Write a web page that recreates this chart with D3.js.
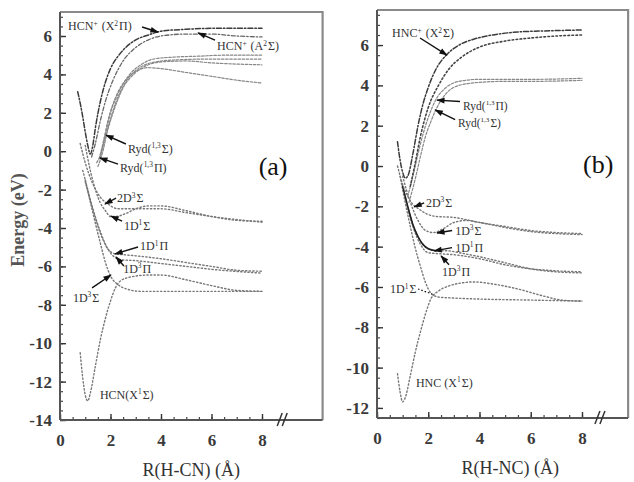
<!DOCTYPE html>
<html><head><meta charset="utf-8">
<script src="https://cdn.jsdelivr.net/npm/d3@7"></script>
<style>body{margin:0;background:#fff}</style>
</head><body><svg id="c" width="634" height="482"></svg>
<script>
// ---------- tick values ----------
const xTickVals = [0, 2, 4, 6, 8];
const yTicksA = [-14, -12, -10, -8, -6, -4, -2, 0, 2, 4, 6];
const yTicksB = [-12, -10, -8, -6, -4, -2, 0, 2, 4, 6];

// ---------- panel (a): H-CN curves [R (Å), E (eV)] ----------
const a_HCNp_X2Pi = [[0.7,3.1],[0.8,2.5],[0.9,1.8],[1.0,1.0],[1.1,0.3],[1.2,-0.15],[1.3,0.3],[1.4,1.2],[1.6,2.6],[1.8,3.6],[2.0,4.3],[2.3,4.95],[2.6,5.4],[3.0,5.8],[3.5,6.05],[4.0,6.25],[5.0,6.35],[6.0,6.4],[7.0,6.4],[8.0,6.4]];
const a_HCNp_A2Sig = [[1.25,-0.3],[1.4,0.4],[1.6,1.6],[1.8,2.6],[2.1,3.7],[2.5,4.7],[3.0,5.4],[3.5,5.8],[4.0,6.0],[5.0,6.1],[6.0,6.1],[7.0,6.0],[8.0,5.95]];
const a_Ryd1Sig = [[1.45,-0.6],[1.6,-0.2],[1.8,0.9],[2.0,2.0],[2.3,3.0],[2.7,3.9],[3.2,4.5],[3.7,4.8],[4.5,4.9],[5.5,4.95],[6.5,5.0],[8.0,5.0]];
const a_Ryd3Sig = [[1.5,-0.8],[1.7,0.0],[1.9,1.2],[2.2,2.5],[2.6,3.6],[3.1,4.3],[3.6,4.6],[4.5,4.75],[6.0,4.8],[8.0,4.8]];
const a_Ryd1Pi = [[1.55,-0.4],[1.7,0.4],[1.9,1.6],[2.2,2.8],[2.6,3.7],[3.0,4.15],[3.5,4.35],[4.0,4.3],[5.0,4.1],[6.0,3.9],[7.0,3.7],[8.0,3.55]];
const a_Ryd3Pi = [[1.6,-0.3],[1.8,0.7],[2.1,2.0],[2.5,3.3],[3.0,4.1],[3.5,4.5],[4.0,4.65],[5.0,4.7],[6.0,4.6],[8.0,4.5]];
const a_2D3Sig = [[0.8,0.4],[1.0,-0.6],[1.3,-1.7],[1.6,-2.4],[1.9,-2.75],[2.3,-3.0],[3.0,-3.0],[4.0,-3.0],[5.0,-3.2],[6.0,-3.4],[8.0,-3.7]];
const a_1D1Sig = [[1.0,0.3],[1.2,-1.0],[1.4,-2.0],[1.6,-2.7],[1.8,-3.1],[2.0,-3.4],[2.2,-3.4],[2.6,-3.25],[3.0,-3.0],[3.5,-2.85],[4.0,-2.85],[5.0,-3.1],[6.0,-3.4],[7.0,-3.6],[8.0,-3.65]];
const a_1D1Pi = [[0.9,-1.0],[1.1,-2.0],[1.3,-3.0],[1.5,-3.9],[1.7,-4.6],[1.9,-5.1],[2.2,-5.35],[2.6,-5.4],[3.0,-5.45],[4.0,-5.6],[5.0,-5.8],[6.0,-6.0],[7.0,-6.2],[8.0,-6.25]];
const a_1D3Pi = [[1.0,-1.6],[1.3,-3.0],[1.6,-4.2],[1.9,-5.1],[2.1,-5.45],[2.4,-5.65],[3.0,-5.7],[4.0,-5.85],[5.0,-6.0],[6.0,-6.15],[8.0,-6.35]];
const a_1D3Sig = [[1.0,-1.5],[1.3,-3.2],[1.6,-4.8],[1.8,-5.8],[2.0,-6.5],[2.3,-6.95],[2.7,-7.2],[3.2,-7.3],[4.0,-7.3],[6.0,-7.3],[8.0,-7.3]];
const a_X1Sig = [[0.8,-10.5],[0.9,-11.8],[1.0,-12.7],[1.1,-13.0],[1.2,-12.6],[1.4,-11.2],[1.6,-9.8],[1.8,-8.7],[2.0,-7.8],[2.2,-7.1],[2.4,-6.75],[2.8,-6.55],[3.5,-6.45],[4.0,-6.45],[5.0,-6.7],[6.0,-7.0],[7.0,-7.25],[8.0,-7.3]];

// ---------- panel (b): H-NC curves ----------
const b_HNCp_X2Sig = [[0.8,1.2],[0.9,0.3],[1.0,-0.3],[1.1,-0.6],[1.2,-0.5],[1.4,0.6],[1.6,2.0],[1.8,3.1],[2.0,3.9],[2.3,4.8],[2.7,5.5],[3.2,6.0],[3.8,6.3],[4.5,6.5],[5.5,6.65],[6.5,6.7],[8.0,6.75]];
const b_upper2 = [[1.3,-1.0],[1.5,0.2],[1.7,1.5],[2.0,2.9],[2.4,4.0],[2.8,4.8],[3.3,5.4],[4.0,5.9],[5.0,6.2],[6.0,6.35],[7.0,6.45],[8.0,6.5]];
const b_RydPi = [[1.2,-1.5],[1.4,-0.5],[1.6,0.6],[1.8,1.6],[2.0,2.4],[2.3,3.3],[2.7,3.9],[3.2,4.2],[4.0,4.3],[5.0,4.3],[6.0,4.3],[8.0,4.35]];
const b_RydSig = [[1.25,-1.8],[1.5,-0.6],[1.7,0.5],[1.9,1.5],[2.1,2.2],[2.3,2.8],[2.7,3.6],[3.2,4.0],[4.0,4.15],[5.0,4.2],[6.0,4.2],[8.0,4.25]];
const b_2D3Sig = [[0.8,0.0],[1.0,-0.9],[1.2,-1.5],[1.4,-1.9],[1.6,-2.1],[1.9,-2.35],[2.3,-2.5],[3.0,-2.55],[4.0,-2.8],[5.0,-3.0],[6.0,-3.2],[7.0,-3.3],[8.0,-3.35]];
const b_1D3Sig = [[1.0,-0.5],[1.3,-1.8],[1.6,-2.7],[1.9,-3.2],[2.2,-3.3],[2.6,-3.1],[3.0,-2.8],[3.5,-2.7],[4.0,-2.8],[5.0,-3.05],[6.0,-3.25],[8.0,-3.4]];
const b_1D1Pi = [[1.0,-1.0],[1.2,-2.0],[1.4,-2.9],[1.6,-3.5],[1.8,-3.9],[2.0,-4.1],[2.3,-4.2],[2.7,-4.2],[3.2,-4.3],[4.0,-4.5],[5.0,-4.8],[6.0,-5.1],[7.0,-5.25],[8.0,-5.3]];
const b_1D3Pi = [[1.1,-1.6],[1.4,-3.0],[1.7,-3.9],[2.0,-4.3],[2.4,-4.35],[3.0,-4.4],[4.0,-4.6],[5.0,-4.9],[6.0,-5.1],[7.0,-5.2],[8.0,-5.25]];
const b_1D1Sig = [[0.9,-0.5],[1.1,-1.8],[1.3,-3.0],[1.5,-4.1],[1.7,-5.0],[1.9,-5.8],[2.1,-6.3],[2.4,-6.5],[3.0,-6.55],[4.0,-6.6],[6.0,-6.65],[8.0,-6.7]];
const b_X1Sig = [[0.8,-10.3],[0.9,-11.2],[1.0,-11.7],[1.1,-11.5],[1.3,-10.4],[1.5,-9.2],[1.7,-8.2],[1.9,-7.3],[2.1,-6.6],[2.4,-6.2],[2.8,-5.95],[3.3,-5.8],[3.8,-5.75],[4.5,-5.85],[5.5,-6.1],[6.5,-6.45],[7.2,-6.65],[8.0,-6.7]];

// ---------- text ----------
const xTitleA = "R(H-CN) (Å)";
const xTitleB = "R(H-NC) (Å)";
const yTitle = "Energy (eV)";

// ---------- drawing ----------
const svg = d3.select("#c");
const font = "'Liberation Serif','Times New Roman',serif";
svg.append("defs").append("marker").attr("id","ah").attr("viewBox","0 0 10 10")
  .attr("refX",9).attr("refY",5).attr("markerWidth",9).attr("markerHeight",6)
  .attr("orient","auto").append("path").attr("d","M0,1.5 L10,5 L0,8.5 z").attr("fill","#111");

const styles = {
  dashdot: {c:"#3a3a3a", w:1.5, d:"5,2,1.5,2"},
  dashdot2:{c:"#666", w:1.3, d:"4,2,1.5,2"},
  dashed:  {c:"#888", w:1.2, d:"2.5,1.6"},
  dotted:  {c:"#777", w:1.4, d:"1.3,2.3"},
  dotdark: {c:"#444", w:1.6, d:"1.6,2.4"},
  solid:   {c:"#222", w:1.6, d:null}
};

function richText(sel, str){
  const re = /\^\{([^}]*)\}/g; let last=0, m;
  while((m=re.exec(str))){
    if(m.index>last) sel.append("tspan").text(str.slice(last,m.index));
    sel.append("tspan").attr("dy",-4.5).attr("font-size","0.62em").text(m[1]);
    sel.append("tspan").attr("dy",4.5).text("\u200A");
    last = re.lastIndex;
  }
  if(last<str.length) sel.append("tspan").text(str.slice(last));
}

function panel(cfg){
  const x = d3.scaleLinear().domain([0,8]).range(cfg.xr);
  const y = d3.scaleLinear().domain(cfg.yd).range(cfg.yr);
  const g = svg.append("g");
  const x0 = x(0), x1 = x(cfg.xmax), yTop = y(cfg.yd[1]), yBot = y(cfg.yd[0]);
  const id = "clip"+cfg.name;
  svg.select("defs").append("clipPath").attr("id",id).append("rect")
    .attr("x",x0).attr("y",yTop).attr("width",x1-x0).attr("height",yBot-yTop);

  g.append("path").attr("d",`M${x0},${yTop}H${x1}V${yBot}`).attr("fill","none")
    .attr("stroke","#8a8a8a").attr("stroke-width",2.2);

  const line = d3.line().x(d=>x(d[0])).y(d=>y(d[1])).curve(d3.curveMonotoneX);
  const cg = g.append("g").attr("clip-path",`url(#${id})`);
  cfg.curves.forEach(c=>{
    const s = styles[c.s];
    const data = c.maxR ? c.data.filter(d=>d[0]<=c.maxR) : c.data;
    cg.append("path").attr("d",line(data)).attr("fill","none").attr("stroke",s.c)
      .attr("stroke-width",s.w).attr("stroke-dasharray",s.d).attr("stroke-linecap","round");
  });

  const minorY = d3.range(Math.ceil(cfg.yd[0]*2)/2, cfg.yd[1], 0.5);
  const minorX = d3.range(0, 8.01, 0.5);
  g.append("g").attr("transform",`translate(${x0},0)`)
    .call(d3.axisLeft(y).tickValues(minorY).tickSizeInner(-3).tickSizeOuter(0).tickFormat(""))
    .call(a=>{a.select(".domain").remove(); a.selectAll("line").attr("stroke","#444").attr("stroke-width",1.2);});
  g.append("g").attr("transform",`translate(0,${yBot})`)
    .call(d3.axisBottom(x).tickValues(minorX).tickSizeInner(-3).tickSizeOuter(0).tickFormat(""))
    .call(a=>{a.select(".domain").remove(); a.selectAll("line").attr("stroke","#444").attr("stroke-width",1.2);});
  const ay = g.append("g").attr("transform",`translate(${x0},0)`)
    .call(d3.axisLeft(y).tickValues(cfg.yTicks).tickSizeInner(-6).tickSizeOuter(0).tickPadding(8).tickFormat(d3.format("d")));
  ay.select(".domain").remove();
  ay.selectAll("line").attr("stroke","#333").attr("stroke-width",1.4);
  ay.selectAll("text").attr("font-family",font).attr("font-size",17).attr("font-weight","bold").attr("fill","#3a3a3a")
    .text(d=>d<0? "-"+Math.abs(d) : d);
  const ax = g.append("g").attr("transform",`translate(0,${yBot})`)
    .call(d3.axisBottom(x).tickValues(xTickVals).tickSizeInner(-6).tickSizeOuter(0).tickPadding(14).tickFormat(d3.format("d")));
  ax.select(".domain").remove();
  ax.selectAll("line").attr("stroke","#333").attr("stroke-width",1.4);
  ax.selectAll("text").attr("font-family",font).attr("font-size",17).attr("font-weight","bold").attr("fill","#3a3a3a");
  g.append("line").attr("x1",x0).attr("x2",x0).attr("y1",yTop).attr("y2",yBot).attr("stroke","#555").attr("stroke-width",2);
  g.append("line").attr("x1",x0).attr("x2",x1).attr("y1",yBot).attr("y2",yBot).attr("stroke","#555").attr("stroke-width",2);
  const bx = x(cfg.breakR);
  [-3,2].forEach(o=>{
    g.append("line").attr("x1",bx+o-2).attr("x2",bx+o+3).attr("y1",yBot+6).attr("y2",yBot-7)
      .attr("stroke","#333").attr("stroke-width",1.5);
  });

  cfg.ann.forEach(a=>{
    const t = g.append("text").attr("x",x(a.t[0])).attr("y",y(a.t[1]))
      .attr("font-family",font).attr("font-size",a.fs||12).attr("fill","#333");
    richText(t,a.s);
    if(a.a){
      g.append("line").attr("x1",x(a.a[0])).attr("y1",y(a.a[1])).attr("x2",x(a.a[2])).attr("y2",y(a.a[3]))
        .attr("stroke","#111").attr("stroke-width",a.lead?1.2:1.4)
        .attr("stroke-dasharray",a.lead?"1.5,2":null)
        .attr("marker-end",a.lead?null:"url(#ah)");
    }
  });
  g.append("text").attr("x",x(cfg.letter[0])).attr("y",y(cfg.letter[1])).attr("text-anchor","middle")
    .attr("font-family",font).attr("font-size",26).attr("fill","#111").text(cfg.letter[2]);
  g.append("text").attr("x",x(cfg.titleR)).attr("y",yBot+56).attr("text-anchor","middle")
    .attr("font-family",font).attr("font-size",18).attr("fill","#333").text(cfg.title);
}

panel({
  name:"a", xr:[60,262], yd:[-14,7.25], yr:[420,12], xmax:10.4, breakR:8.8,
  yTicks:yTicksA, title:xTitleA, titleR:5.2, letter:[8.44,-1.24,"(a)"],
  curves:[
    {data:a_X1Sig,s:"dotted"},{data:a_1D3Sig,s:"dotted"},{data:a_1D3Pi,s:"dotted"},{data:a_1D1Pi,s:"dotted"},
    {data:a_1D1Sig,s:"dotted"},{data:a_2D3Sig,s:"dotted"},
    {data:a_Ryd1Pi,s:"dashed"},{data:a_Ryd3Pi,s:"dashed"},{data:a_Ryd3Sig,s:"dashed"},{data:a_Ryd1Sig,s:"dashed"},
    {data:a_HCNp_A2Sig,s:"dashdot2"},{data:a_HCNp_X2Pi,s:"dashdot"}
  ],
  ann:[
    {s:"HCN^{+} (X^{2}Π)", t:[0.32,6.31], a:[3.25,6.47,3.88,6.21]},
    {s:"HCN^{+} (A^{2}Σ)", t:[6.22,5.27], a:[6.14,5.79,5.47,6.16]},
    {s:"Ryd(^{1,3}Σ)", t:[2.69,-0.09], a:[2.61,0.375,1.82,0.84]},
    {s:"Ryd(^{1,3}Π)", t:[2.38,-1.08], a:[2.30,-0.67,1.58,-0.35]},
    {s:"2D^{3}Σ", t:[2.26,-2.65], a:[2.22,-2.44,1.78,-2.75]},
    {s:"1D^{1}Σ", t:[2.53,-4.1], a:[2.46,-3.64,2.02,-3.38]},
    {s:"1D^{1}Π", t:[3.17,-5.15], a:[3.09,-4.99,2.18,-5.35]},
    {s:"1D^{3}Π", t:[2.5,-6.34], a:[2.53,-5.98,2.22,-5.51]},
    {s:"1D^{3}Σ", t:[0.51,-7.85], a:[1.27,-7.12,2.02,-6.45]},
    {s:"HCN(X^{1}Σ)", t:[1.58,-12.9]}
  ]
});

panel({
  name:"b", xr:[377,582], yd:[-12.5,7.74], yr:[418,10], xmax:9.8, breakR:8.7,
  yTicks:yTicksB, title:xTitleB, titleR:5.2, letter:[8.63,-0.35,"(b)"],
  curves:[
    {data:b_X1Sig,s:"dotted"},{data:b_1D1Sig,s:"dotted"},{data:b_1D3Pi,s:"dotted"},{data:b_1D1Pi,s:"dotted"},
    {data:b_1D1Pi,s:"solid",maxR:2.4},
    {data:b_1D3Sig,s:"dotted"},{data:b_2D3Sig,s:"dotted"},
    {data:b_RydSig,s:"dashed"},{data:b_RydPi,s:"dashed"},
    {data:b_upper2,s:"dotdark"},{data:b_HNCp_X2Sig,s:"dashdot"}
  ],
  ann:[
    {s:"HNC^{+} (X^{2}Σ)", t:[0.59,6.4], a:[1.68,6.35,2.73,5.5]},
    {s:"Ryd(^{1,3}Π)", t:[3.36,2.8], a:[3.24,3.2,2.34,3.27], fs:11.5},
    {s:"Ryd(^{1,3}Σ)", t:[3.16,1.95], a:[3.05,2.3,2.27,2.78], fs:11.5},
    {s:"2D^{3}Σ", t:[1.91,-2.03], a:[1.84,-1.83,1.45,-2.03]},
    {s:"1D^{3}Σ", t:[3.05,-3.4], a:[2.93,-3.2,2.34,-3.32]},
    {s:"1D^{1}Π", t:[3.05,-4.25], a:[2.93,-4.05,2.23,-4.21]},
    {s:"1D^{3}Π", t:[2.54,-5.45], a:[2.81,-4.9,2.5,-4.46]},
    {s:"1D^{1}Σ", t:[0.51,-6.3], a:[1.6,-6.1,2.15,-6.35], lead:true},
    {s:"HNC (X^{1}Σ)", t:[1.52,-10.96]}
  ]
});

svg.append("text").attr("transform","translate(24,220) rotate(-90)").attr("text-anchor","middle")
  .attr("font-family",font).attr("font-size",18).attr("font-weight","bold").attr("fill","#555").text(yTitle);
</script></body></html>
